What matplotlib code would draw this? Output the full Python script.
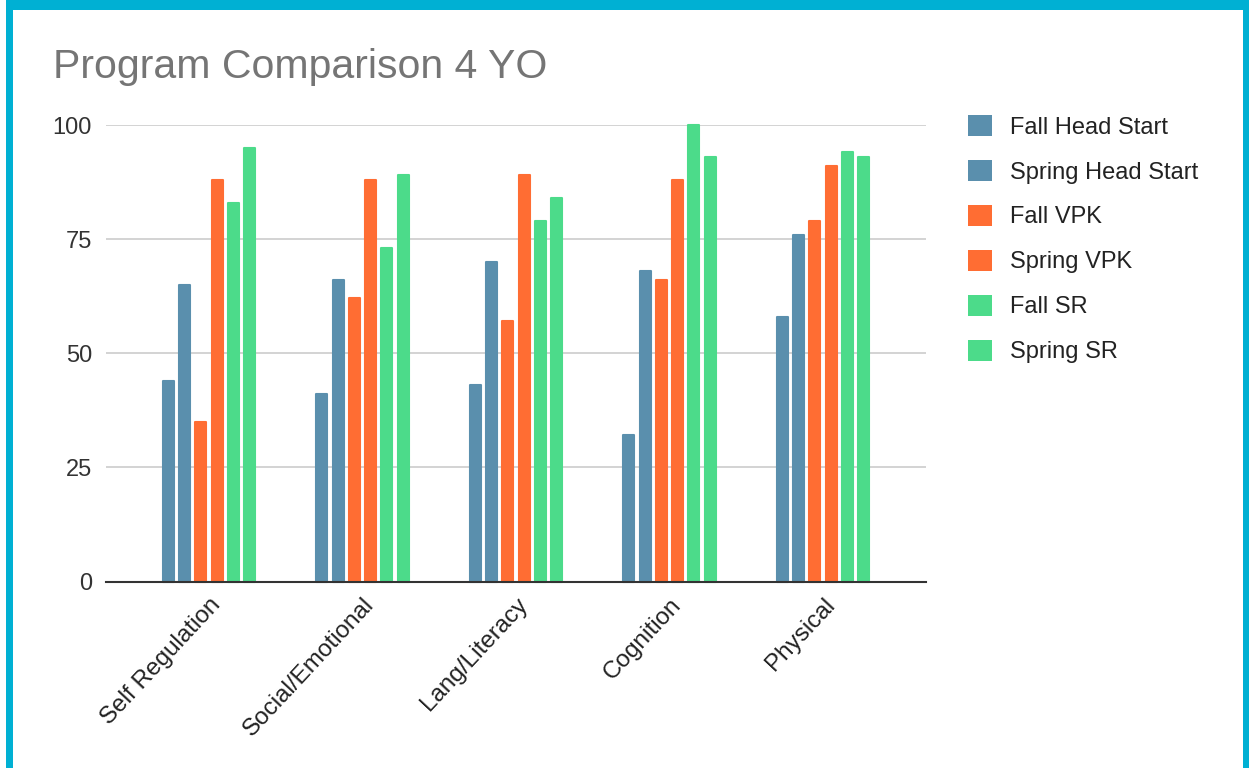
import matplotlib
matplotlib.use("Agg")
import matplotlib.pyplot as plt
from matplotlib.patches import Rectangle, Patch
import numpy as np

plt.rcParams["font.family"] = ["Liberation Sans", "DejaVu Sans"]

# data
categories = ["Self Regulation", "Social/Emotional", "Lang/Literacy", "Cognition", "Physical"]
series = ["Fall Head Start", "Spring Head Start", "Fall VPK", "Spring VPK", "Fall SR", "Spring SR"]
fall_head_start = [44, 41, 43, 32, 58]
spring_head_start = [65, 66, 70, 68, 76]
fall_vpk = [35, 62, 57, 66, 79]
spring_vpk = [88, 88, 89, 88, 91]
fall_sr = [83, 73, 79, 100, 94]
spring_sr = [95, 89, 84, 93, 93]
y_ticks = [0, 25, 50, 75, 100]

values = [fall_head_start, spring_head_start, fall_vpk, spring_vpk, fall_sr, spring_sr]
colors = ["#5A8FAD", "#5A8FAD", "#FF6D33", "#FF6D33", "#4CDB8A", "#4CDB8A"]

W, H = 1249, 768
fig = plt.figure(figsize=(W / 100, H / 100), dpi=100, facecolor="white")

# cyan frame around the screenshot
cyan = "#00B0D3"
fig.patches.append(Rectangle((6 / W, 0), 7 / W, 1, transform=fig.transFigure,
                             facecolor=cyan, edgecolor="none"))
fig.patches.append(Rectangle((6 / W, 1 - 10 / H), 1 - 6 / W, 10 / H,
                             transform=fig.transFigure, facecolor=cyan, edgecolor="none"))
fig.patches.append(Rectangle((1 - 6 / W, 0), 6 / W, 1, transform=fig.transFigure,
                             facecolor=cyan, edgecolor="none"))

ax = fig.add_axes([106 / W, 1 - 581.5 / H, (926 - 106) / W, (581.5 - 125) / H])

x = np.arange(len(categories))
step = 0.106
width = 0.072
for i, (vals, col) in enumerate(zip(values, colors)):
    ax.bar(x + (i - 2.5) * step, vals, width=width, color=col, zorder=3,
           clip_on=False, label=series[i], edgecolor=col, linewidth=1.5,
           joinstyle="round")

ax.set_xlim(-0.671, 4.671)
ax.set_ylim(0, 100)
ax.set_yticks(y_ticks)
ax.set_yticklabels([str(t) for t in y_ticks], fontsize=17, color="#333333")
ax.yaxis.grid(True, color="#CCCCCC", linewidth=1.2, zorder=0)
ax.tick_params(axis="y", length=0, pad=10)
ax.tick_params(axis="x", length=0, pad=9)
ax.set_xticks(x)
ax.set_xticklabels(categories, rotation=47, ha="right", rotation_mode="anchor",
                   fontsize=17.5, color="#222222")
for s in ["top", "right", "left"]:
    ax.spines[s].set_visible(False)
ax.spines["bottom"].set_color("#333333")
ax.spines["bottom"].set_linewidth(1.5)
ax.spines["bottom"].set_zorder(4)

fig.text(53 / W, 1 - 78 / H, "Program Comparison 4 YO", fontsize=29.5,
         color="#757575", ha="left", va="baseline")

handles = [Patch(facecolor=c, edgecolor="none") for c in colors]
leg = fig.legend(handles, series, loc="upper left",
                 bbox_to_anchor=(968 / W, 1 - 115 / H), frameon=False,
                 fontsize=17, handlelength=1.0, handleheight=1.0,
                 labelspacing=0.9, handletextpad=0.8, borderpad=0,
                 borderaxespad=0)
for t in leg.get_texts():
    t.set_color("#222222")

fig.savefig("out.png", dpi=100, facecolor="white")
